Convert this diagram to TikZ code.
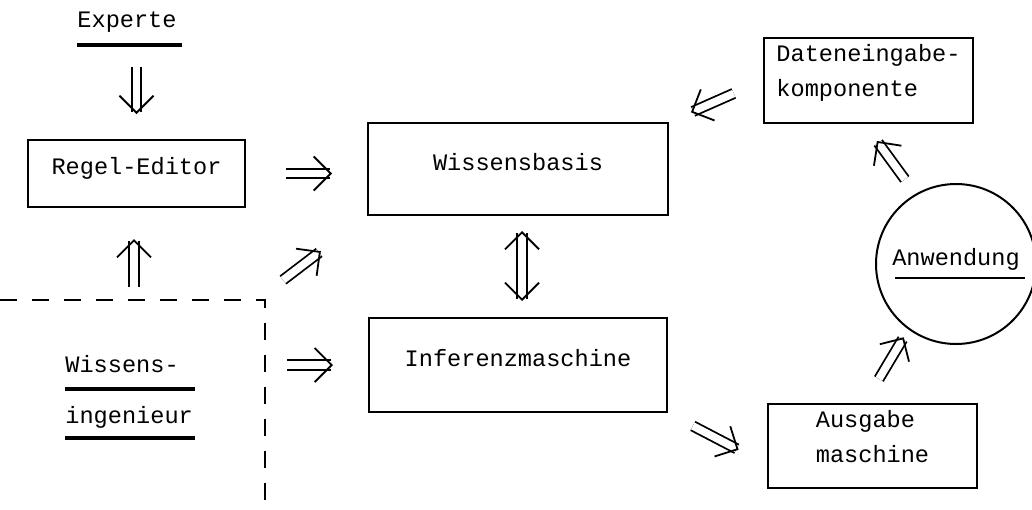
\documentclass[tikz,border=0pt]{standalone}
\usepackage{fontspec}
\setmonofont{Liberation Mono}
\usetikzlibrary{arrows.meta, positioning, calc}
\newcommand{\plotfont}{\fontsize{11.8}{17.5}\selectfont\ttfamily}
\newcommand{\lowstrut}{\rule[-10pt]{0pt}{10pt}}
\tikzset{
  box/.style = {draw, line width=1pt, inner sep=2pt, font=\plotfont},
  onebox/.style = {box, text height=8pt, text depth=7pt},% one line of text
  twobox/.style = {box, align=left},% two lines of text
  circ/.style = {draw, circle, line width=1pt, minimum size=80pt,
    inner sep=0pt, font=\plotfont, text height=8pt, text depth=7pt},
  lbl/.style = {font=\plotfont, inner sep=0pt},
  uline/.style = {line width=1.8pt},
  fence/.style = {line width=1pt, dash pattern=on 8.5pt off 7.5pt},
  dbl/.style = {double, double distance=3.8pt, line width=0.9pt,
    -{Straight Barb[length=8.5pt, width=17pt]}},
  dblboth/.style = {double, double distance=3.8pt, line width=0.9pt,
    {Straight Barb[length=8.5pt, width=17pt]}-{Straight Barb[length=8.5pt, width=17pt]}}
}
\begin{document}
\begin{tikzpicture}[x=0.5pt, y=-0.5pt]
\useasboundingbox (0,0) rectangle (1032,509);

% boxes
\node (regel) [onebox, minimum width=108.5pt, minimum height=33.5pt]
  at (136.5,173.5) {Regel-Editor};
\node (wbasis) [onebox, minimum width=150pt, minimum height=46pt]
  at (518,169) {Wissensbasis};
\node (inferenz) [onebox, minimum width=149pt, minimum height=47pt]
  at (518,365) {Inferenzmaschine};
\node (ausgabe) [twobox, minimum width=104.5pt, minimum height=42pt]
  at (872.5,446) {Ausgabe\\maschine\lowstrut};
\node (eingabe) [twobox, minimum width=104.5pt, minimum height=42.5pt]
  at (868.5,80.5) {Dateneingabe-\\komponente\lowstrut};
\node (anwendung) [circ] at (956,264) {Anwendung};

% people
\node (experte) [lbl, anchor=base] at (127,27) {Experte};
\node (wiss) [lbl, anchor=base west] at (65,372) {Wissens-};
\node (ing) [lbl, anchor=base west] at (65,423) {ingenieur};
\draw[uline] ([yshift=-9pt]experte.base west) -- ++(105,0);
\draw[uline] ([yshift=-8.5pt]wiss.base west) -- ++(130,0);
\draw[uline] ([yshift=-7.5pt]ing.base west) -- ++(130,0);
\draw[line width=0.8pt] ($(anwendung.center)+(-61,14)$) -- ++(130,0);

% Wissensingenieur area
\draw[fence] (0,300) -| (265,509);
\coordinate (wing-n) at (134,287);
\coordinate (wing-ne) at (283,280);
\coordinate (wing-e) at (287,365);

% arrows
\draw[dbl, shorten <=17.5pt, shorten >=12.5pt] (experte.south -| regel.north) -- (regel.north);
\draw[dbl, shorten >=15.5pt] (wing-n) -- (wing-n |- regel.south);
\draw[dbl, shorten <=20pt, shorten >=17.5pt] (regel.east) -- (regel.east -| wbasis.west);
\draw[dbl, shorten >=29pt] (wing-ne) -- (wbasis.south west);
\draw[dbl, shorten >=17.5pt] (wing-e) -- (wing-e -| inferenz.west);
\draw[dblboth, shorten <=7.5pt, shorten >=8pt] ([xshift=2pt]wbasis.south) -- ([xshift=2pt]inferenz.north);
\draw[dbl, shorten <=14pt, shorten >=16pt] (inferenz.south east) -- (ausgabe.190);
\draw[dbl, shorten <=14pt, shorten >=4.5pt] ([xshift=-4pt]ausgabe.north) -- (anwendung.234);
\draw[dbl, shorten <=9pt, shorten >=10.5pt] (anwendung.120) -- ([xshift=-2pt]eingabe.south);
\draw[dbl, shorten <=16pt, shorten >=12pt] (eingabe.west) -- (wbasis.north east);
\end{tikzpicture}
\end{document}
